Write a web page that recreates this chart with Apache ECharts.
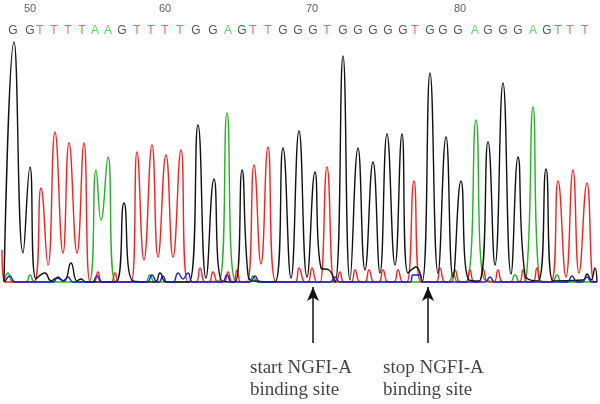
<!DOCTYPE html>
<html>
<head>
<meta charset="utf-8">
<script src="https://cdn.jsdelivr.net/npm/echarts@6/dist/echarts.min.js"></script>
<style>
  html, body { margin: 0; padding: 0; background: #fff; }
  #chart { width: 600px; height: 404px; }
</style>
</head>
<body>
<div id="chart"></div>
<script>
// base calls 49..89 and where they sit on the scan axis
var bases = 'GGTTTTAAGTTTTGGAGTTGGGTGGGGGTGGGAGGGAGTTT'.split('')
var basePos = [13, 30, 40, 54, 68, 82, 95, 108, 122, 137, 151, 165, 180, 196, 213, 228, 242, 253, 268, 283,
  298, 313, 327, 343, 358, 373, 388, 403, 415, 430, 443, 458, 475, 488, 503, 518, 533, 547, 558, 570, 585]
var tickLabels = ['50', '60', '70', '80', '90']
var tickPos = [30, 165, 312, 460, 603]

// traces: [scan, signal] read at peaks and valleys
var traceG = [[4, 0], [14, 240], [23, 29], [30, 115], [36, 3], [45, 9], [51, 1], [57, 4], [64, 1], [71, 19], [77, 1],
  [81, 3], [86, 0], [116, 0], [124, 79], [133, 1], [155, 0], [160, 9], [166, 0], [189, 0], [198, 157], [206, 4],
  [214, 103], [222, 1], [235, 0], [242, 112], [248, 7], [253, 1], [275, 0], [283, 134], [291, 4], [299, 151],
  [307, 5], [315, 110], [321, 14], [329, 12], [335, 0], [343, 226], [350, 2], [358, 134], [365, 12], [373, 120],
  [380, 9], [387, 148], [395, 17], [402, 148], [408, 9], [416, 15], [422, 0], [430, 209], [438, 9], [446, 145],
  [453, 5], [461, 101], [469, 2], [479, 1], [488, 140], [495, 17], [503, 199], [511, 8], [518, 125], [525, 7],
  [538, 1], [546, 113], [553, 1], [583, 2], [587, 8], [591, 2], [595, 14], [597, 0]]
var traceA = [[4, 0], [8, 9], [13, 0], [26, 0], [30, 7], [35, 0], [89, 0], [96, 112], [101, 62], [108, 125],
  [115, 1], [145, 0], [150, 7], [155, 0], [219, 1], [227, 169], [235, 1], [249, 0], [253, 6], [258, 0], [448, 0],
  [453, 9], [458, 0], [467, 1], [476, 162], [484, 3], [510, 0], [515, 7], [520, 0], [526, 2], [533, 175],
  [540, 2], [552, 0], [557, 7], [562, 0], [597, 0]]
var traceT = [[2, 32], [5, 0], [34, 0], [41, 94], [48, 17], [55, 150], [63, 29], [69, 139], [77, 29], [84, 139],
  [90, 0], [94, 0], [98, 10], [102, 0], [111, 0], [115, 9], [119, 0], [131, 0], [137, 130], [144, 22], [152, 137],
  [158, 25], [166, 127], [173, 25], [181, 132], [188, 0], [196, 0], [200, 14], [205, 0], [209, 0], [213, 10],
  [218, 0], [224, 0], [228, 10], [232, 0], [234, 0], [237, 12], [241, 0], [247, 0], [254, 117], [261, 18],
  [268, 135], [276, 0], [295, 0], [299, 14], [305, 0], [308, 0], [312, 14], [317, 0], [320, 0], [327, 115],
  [334, 0], [336, 0], [340, 10], [344, 0], [351, 0], [355, 12], [360, 0], [365, 0], [369, 12], [374, 0], [379, 0],
  [383, 12], [388, 0], [394, 0], [398, 12], [403, 0], [407, 0], [414, 101], [421, 0], [436, 0], [440, 14],
  [445, 0], [451, 0], [455, 12], [460, 0], [466, 0], [470, 12], [474, 0], [479, 0], [483, 13], [488, 0], [494, 0],
  [498, 12], [503, 0], [519, 0], [523, 12], [527, 0], [533, 0], [537, 14], [541, 0], [551, 0], [558, 101],
  [566, 5], [573, 112], [579, 9], [587, 99], [594, 0], [597, 0]]
var traceC = [[5, 0], [10, 6], [15, 0], [53, 0], [58, 5], [63, 1], [68, 5], [73, 0], [92, 0], [97, 6], [102, 0],
  [147, 0], [152, 7], [157, 0], [159, 0], [163, 6], [167, 0], [173, 0], [178, 9], [183, 3], [188, 9], [193, 0],
  [222, 0], [227, 7], [232, 0], [250, 0], [255, 6], [260, 0], [330, 0], [335, 5], [340, 0], [410, 0], [413, 7],
  [420, 7], [423, 0], [485, 0], [490, 5], [495, 0], [567, 0], [572, 6], [577, 0], [582, 0], [587, 5], [592, 0],
  [597, 0]]

var arrowPos = [313, 428]
var notes = ['start NGFI-A\nbinding site', 'stop NGFI-A\nbinding site']
var notePos = [250, 383]

var traceColor = { G: '#111111', A: '#22b422', T: '#ff1e1e', C: '#1c1cd0' }
var letterColor = { G: '#2a2a2a', A: '#3cc83c', T: '#ff3c3c', C: '#3c3cff' }

function trace(name, data) {
  return {
    name: name,
    type: 'line',
    data: data,
    smooth: 0.5,
    showSymbol: false,
    silent: true,
    lineStyle: { color: traceColor[name], width: 1.4 }
  }
}

var chart = echarts.init(document.getElementById('chart'))
chart.setOption({
  animation: false,
  grid: { left: 0, right: 0, top: 0, bottom: 0 },
  xAxis: { type: 'value', min: 0, max: 600, show: false },
  yAxis: { type: 'value', min: -122, max: 282, show: false },
  series: [
    trace('A', traceA),
    trace('T', traceT),
    trace('G', traceG),
    trace('C', traceC),
    {
      type: 'scatter',
      symbolSize: 0,
      silent: true,
      data: basePos.map(function (x, i) {
        return { value: [x, 251], label: { color: letterColor[bases[i]] } }
      }),
      label: {
        show: true,
        position: 'inside',
        fontFamily: 'Liberation Sans',
        fontSize: 12,
        formatter: function (p) { return bases[p.dataIndex] }
      }
    },
    {
      type: 'scatter',
      symbolSize: 0,
      silent: true,
      data: tickPos.map(function (x) { return [x, 273] }),
      label: {
        show: true,
        position: 'inside',
        fontFamily: 'Liberation Sans',
        fontSize: 11,
        color: '#333',
        formatter: function (p) { return tickLabels[p.dataIndex] }
      },
      markLine: {
        silent: true,
        symbol: ['none', 'arrow'],
        symbolSize: [9, 14],
        label: { show: false },
        lineStyle: { color: '#111', width: 1.5, type: 'solid' },
        data: arrowPos.map(function (x) {
          return [{ coord: [x, -61] }, { coord: [x, -5] }]
        })
      }
    },
    {
      type: 'scatter',
      symbolSize: 0,
      silent: true,
      data: notePos.map(function (x, i) { return { value: [x, -97], name: notes[i] } }),
      label: {
        show: true,
        position: 'right',
        distance: 0,
        fontFamily: 'Liberation Serif',
        fontSize: 19,
        lineHeight: 22,
        color: '#111',
        formatter: '{b}'
      }
    }
  ]
})
</script>
</body>
</html>
